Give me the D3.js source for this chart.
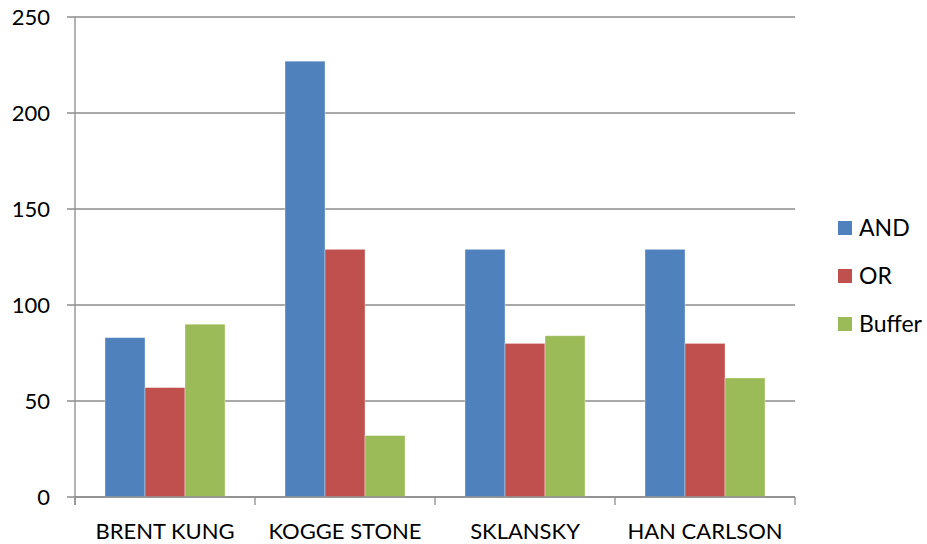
<!DOCTYPE html>
<html>
<head>
<meta charset="utf-8">
<script src="https://cdn.jsdelivr.net/npm/d3@7"></script>
<style>
  body { margin: 0; background: #fff; }
  text { font-family: Lato, "Open Sans", sans-serif; fill: #000; }
</style>
</head>
<body>
<div id="chart"></div>
<script>
const categories = ["BRENT KUNG", "KOGGE STONE", "SKLANSKY", "HAN CARLSON"]
const seriesNames = ["AND", "OR", "Buffer"]
const andValues = [83, 227, 129, 129]
const orValues = [57, 129, 80, 80]
const bufferValues = [90, 32, 84, 62]
const yTicks = [0, 50, 100, 150, 200, 250]
const colors = ["#4F81BD", "#C0504D", "#9BBB59"]

const allValues = [andValues, orValues, bufferValues]

const width = 927
const height = 544
const plotLeft = 75, plotRight = 795, plotTop = 17, plotBottom = 497

const svg = d3.select("#chart").append("svg")
	.attr("width", width)
	.attr("height", height)

const x0 = d3.scaleBand().domain(categories).range([plotLeft, plotRight]).padding(0)
const x1 = d3.scaleBand().domain(seriesNames).range([0, x0.bandwidth()]).paddingInner(0).paddingOuter(0.75)
const y = d3.scaleLinear().domain([0, 250]).range([plotBottom, plotTop])

// gridlines
svg.append("g")
	.selectAll("line")
	.data(yTicks)
	.join("line")
		.attr("x1", plotLeft - 8)
		.attr("x2", plotRight)
		.attr("y1", d => y(d))
		.attr("y2", d => y(d))
		.attr("stroke", "#8c8c8c")
		.attr("stroke-width", 1.3)

// y tick labels
svg.append("g")
	.selectAll("text")
	.data(yTicks)
	.join("text")
		.attr("x", 50)
		.attr("y", d => y(d))
		.attr("dy", "0.35em")
		.attr("text-anchor", "end")
		.attr("font-size", 22)
		.text(d => d)

// y axis line
svg.append("line")
	.attr("x1", plotLeft).attr("x2", plotLeft)
	.attr("y1", plotTop).attr("y2", plotBottom + 8)
	.attr("stroke", "#8c8c8c")
	.attr("stroke-width", 1.3)

// bars
const groups = svg.append("g")
	.selectAll("g")
	.data(categories)
	.join("g")
		.attr("transform", d => `translate(${x0(d)},0)`)

groups.selectAll("rect")
	.data((c, i) => seriesNames.map((s, j) => ({series: s, value: allValues[j][i], color: colors[j]})))
	.join("rect")
		.attr("x", d => x1(d.series))
		.attr("width", x1.bandwidth())
		.attr("y", d => y(d.value))
		.attr("height", d => y(0) - y(d.value))
		.attr("fill", d => d.color)
		.attr("stroke", "rgba(255,255,255,0.45)")
		.attr("stroke-width", 0.8)

// x axis line and ticks
svg.append("line")
	.attr("x1", plotLeft).attr("x2", plotRight)
	.attr("y1", plotBottom).attr("y2", plotBottom)
	.attr("stroke", "#8c8c8c")
	.attr("stroke-width", 1.3)

const xTickPos = categories.map(c => x0(c)).concat([plotRight])
svg.append("g")
	.selectAll("line")
	.data(xTickPos)
	.join("line")
		.attr("x1", d => d).attr("x2", d => d)
		.attr("y1", plotBottom).attr("y2", plotBottom + 8)
		.attr("stroke", "#8c8c8c")
		.attr("stroke-width", 1.3)

svg.append("g")
	.selectAll("text")
	.data(categories)
	.join("text")
		.attr("x", d => x0(d) + x0.bandwidth() / 2)
		.attr("y", 531)
		.attr("dy", "0.35em")
		.attr("text-anchor", "middle")
		.attr("font-size", 22)
		.text(d => d)

// legend
const legend = svg.append("g")
	.selectAll("g")
	.data(seriesNames)
	.join("g")
		.attr("transform", (d, i) => `translate(838,${228 + i * 48})`)

legend.append("rect")
	.attr("x", 0)
	.attr("y", -7)
	.attr("width", 14)
	.attr("height", 14)
	.attr("fill", (d, i) => colors[i])

legend.append("text")
	.attr("x", 21)
	.attr("y", 0)
	.attr("dy", "0.35em")
	.attr("font-size", 23)
	.text(d => d)
</script>
</body>
</html>
